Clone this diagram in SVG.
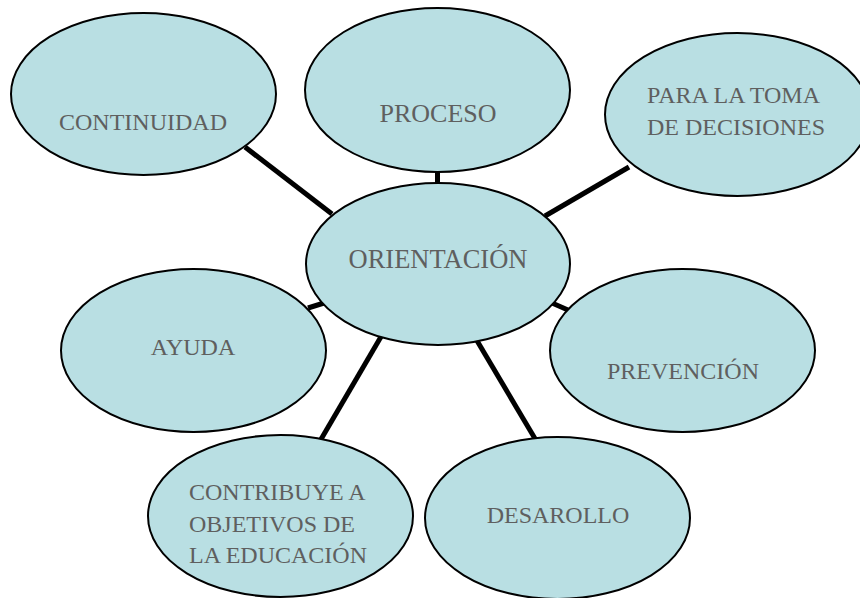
<svg xmlns="http://www.w3.org/2000/svg" width="860" height="598" viewBox="0 0 860 598">
<style>
.node ellipse{fill:#b9dfe3;stroke:#000;stroke-width:2}
.node text{font-family:"Liberation Serif","Times New Roman",serif;font-size:24px;fill:#5f5f5f}
.c{text-anchor:middle}
#connectors line{stroke:#000;stroke-width:5;stroke-linecap:butt}
</style>
<rect width="860" height="598" fill="#fff"/>
<g id="connectors">
<line x1="245" y1="147" x2="332" y2="214"/>
<line x1="437.5" y1="170" x2="437.5" y2="185"/>
<line x1="629" y1="167" x2="545" y2="216"/>
<line x1="308" y1="308" x2="324" y2="303"/>
<line x1="552" y1="303" x2="568" y2="310"/>
<line x1="382" y1="335" x2="320" y2="441"/>
<line x1="476" y1="339" x2="537" y2="442"/>
</g>
<g id="continuidad" class="node">
<ellipse cx="143.5" cy="94" rx="132.5" ry="81"/>
<text class="c" x="143" y="130">CONTINUIDAD</text>
</g>
<g id="proceso" class="node">
<ellipse cx="437.5" cy="90" rx="132.5" ry="82"/>
<text class="c" x="438" y="122" style="font-size:26px">PROCESO</text>
</g>
<g id="toma-decisiones" class="node">
<ellipse cx="737.5" cy="114.5" rx="132.5" ry="81.5"/>
<text x="647" y="103">PARA LA TOMA</text>
<text x="647" y="135">DE DECISIONES</text>
</g>
<g id="orientacion" class="node">
<ellipse cx="438" cy="264" rx="132" ry="81"/>
<text class="c" x="438" y="268" style="font-size:26.5px">ORIENTACIÓN</text>
</g>
<g id="ayuda" class="node">
<ellipse cx="193.5" cy="350.5" rx="132.5" ry="81.5"/>
<text class="c" x="193" y="355">AYUDA</text>
</g>
<g id="prevencion" class="node">
<ellipse cx="682.5" cy="350.5" rx="132.5" ry="81.5"/>
<text class="c" x="683" y="379">PREVENCIÓN</text>
</g>
<g id="contribuye" class="node">
<ellipse cx="280.5" cy="516" rx="132.5" ry="81"/>
<text x="189" y="500">CONTRIBUYE A</text>
<text x="189" y="532">OBJETIVOS DE</text>
<text x="189" y="563">LA EDUCACIÓN</text>
</g>
<g id="desarollo" class="node">
<ellipse cx="557.5" cy="518" rx="132.5" ry="81"/>
<text class="c" x="558" y="523">DESAROLLO</text>
</g>
</svg>
